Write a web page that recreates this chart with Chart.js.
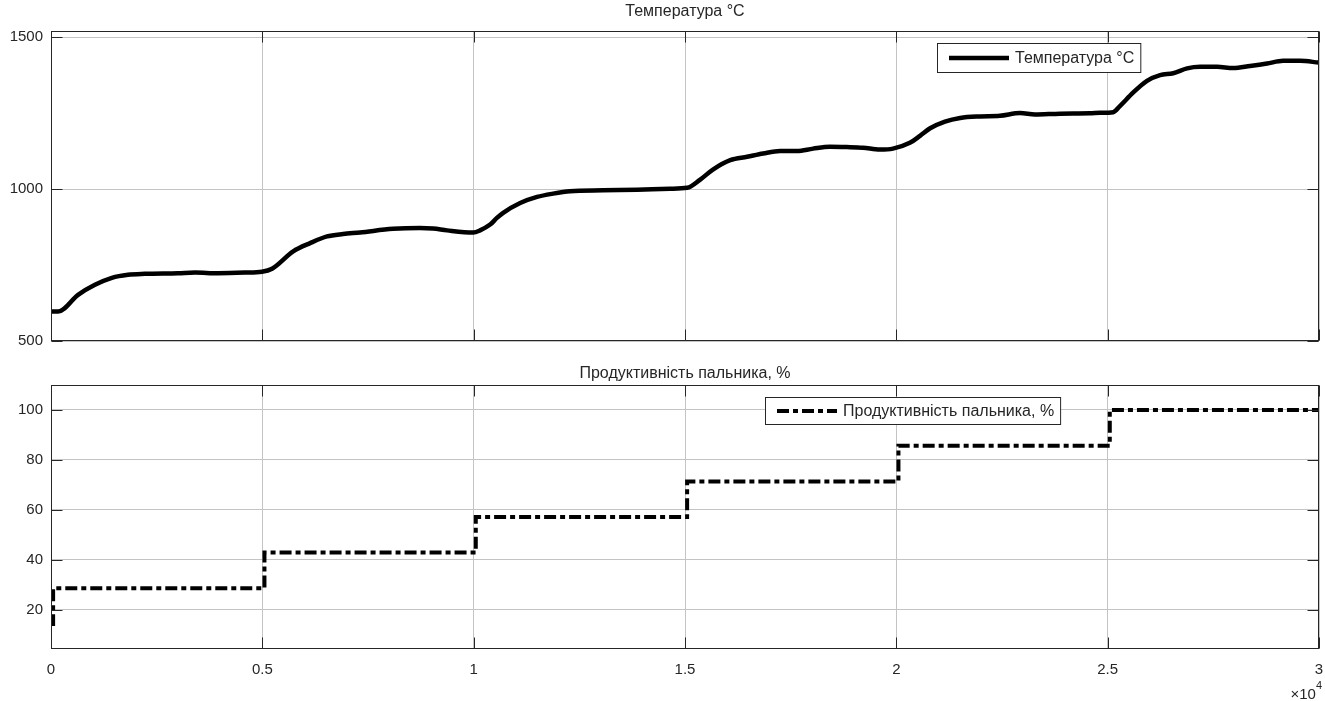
<!DOCTYPE html>
<html>
<head>
<meta charset="utf-8">
<script src="https://cdn.jsdelivr.net/npm/chart.js@4.4.1/dist/chart.umd.min.js"></script>
<style>
  body { margin: 0; background: #fff; }
  canvas { position: absolute; left: 0; }
  #tempChart { top: 0; }
  #burnerChart { top: 345px; }
</style>
</head>
<body>
<canvas id="tempChart" width="1325" height="345"></canvas>
<canvas id="burnerChart" width="1325" height="356"></canvas>
<script>
// Data ---------------------------------------------------------------------->
const timeSec = [0, 170, 640, 1040, 1440, 1820, 2220, 3000, 3410, 3950, 4590, 4990, 5230,
  5730, 6130, 6530, 6910, 7310, 8090, 8730, 9040, 9370, 9990, 10150, 10390,
  10550, 10690, 11100, 11500, 11880, 12280, 13060, 13870, 14650, 15050, 15360,
  15660, 16070, 16470, 16850, 17250, 17650, 18030, 18430, 18830, 19210, 19610, 19920,
  20320, 20560, 20800, 21150, 21510, 21980, 22450, 22930, 23280, 23870, 24580, 24820,
  25130, 25290, 25600, 25930, 26240, 26550, 26880, 27190, 27590, 27970, 28370, 28770,
  29150, 29550, 30000];
const temperatureC = [597, 597, 652, 685, 708, 718, 721, 723, 725, 723, 725, 728, 738,
  795, 822, 844, 852, 857, 869, 872, 870, 864, 857, 864, 883,
  905, 921, 954, 974, 985, 993, 996, 998, 1001, 1004, 1031,
  1064, 1095, 1106, 1117, 1125, 1125, 1133, 1139, 1138, 1136, 1130, 1133,
  1152, 1175, 1200, 1222, 1234, 1239, 1241, 1250, 1245, 1248, 1249, 1251,
  1253, 1273, 1317, 1356, 1375, 1381, 1397, 1402, 1402, 1398, 1405, 1413,
  1422, 1422, 1416];

const stepTimeSec = [0, 50, 5050, 10050, 15050, 20050, 25050, 30000];
const burnerPct = [14.3, 28.6, 42.9, 57.1, 71.4, 85.7, 100, 100];

const xTicks = [0, 5000, 10000, 15000, 20000, 25000, 30000];
const xTickLabels = ['0', '0.5', '1', '1.5', '2', '2.5', '3'];
const tempTicks = [500, 1000, 1500];
const burnerTicks = [20, 40, 60, 80, 100];

const tempLabel = 'Температура °C';
const burnerLabel = 'Продуктивність пальника, %';

// Style --------------------------------------------------------------------->
const FONT = '"Liberation Sans", Arial, sans-serif';
const TEXT = '#262626';
const GRID = '#c4c4c4';

// Frame, inner tick marks, legend box, exponent label
const matlabAxes = {
    id: 'matlabAxes',
    afterDraw(chart, args, opts) {
        const { ctx, chartArea: a, scales } = chart;
        const L = Math.round(a.left) + 0.5, R = Math.round(a.right) - 0.5;
        const T = Math.round(a.top) + 0.5, B = Math.round(a.bottom) - 0.5;
        ctx.save();
        ctx.strokeStyle = TEXT;
        ctx.lineWidth = 1;
        ctx.beginPath();
        scales.x.ticks.forEach(t => {
            const px = Math.round(scales.x.getPixelForValue(t.value)) + 0.5;
            ctx.moveTo(px, T); ctx.lineTo(px, T + 11);
            ctx.moveTo(px, B); ctx.lineTo(px, B - 11);
        });
        scales.y.ticks.forEach(t => {
            const py = Math.round(scales.y.getPixelForValue(t.value)) + 0.5;
            ctx.moveTo(L, py); ctx.lineTo(L + 11, py);
            ctx.moveTo(R, py); ctx.lineTo(R - 11, py);
        });
        ctx.stroke();
        ctx.strokeRect(L, T, R - L, B - T);

        // legend
        const ds = chart.data.datasets[0];
        const lg = opts.legend;
        ctx.font = '16px ' + FONT;
        const tw = ctx.measureText(ds.label).width;
        const w = 78 + tw + 6;
        ctx.fillStyle = '#fff';
        ctx.fillRect(lg.x, lg.y, w, lg.h);
        ctx.strokeRect(lg.x + 0.5, lg.y + 0.5, w, lg.h);
        const cy = lg.y + lg.h / 2 + 0.5;
        ctx.beginPath();
        ctx.setLineDash(ds.borderDash || []);
        ctx.lineWidth = ds.borderWidth;
        ctx.strokeStyle = ds.borderColor;
        ctx.moveTo(lg.x + 12, cy);
        ctx.lineTo(lg.x + 72, cy);
        ctx.stroke();
        ctx.setLineDash([]);
        ctx.fillStyle = TEXT;
        ctx.textBaseline = 'middle';
        ctx.fillText(ds.label, lg.x + 78, cy + 1);

        // x10^4 exponent
        if (opts.exponent) {
            ctx.textBaseline = 'alphabetic';
            ctx.font = '11px ' + FONT;
            const w4 = ctx.measureText('4').width;
            ctx.fillText('4', 1322 - w4, 344);
            ctx.font = '15px ' + FONT;
            ctx.textAlign = 'right';
            ctx.fillText('\u00d710', 1322 - w4, 354);
        }
        ctx.restore();
    }
};

function axisX(showLabels, height) {
    return {
        type: 'linear',
        min: 0,
        max: 30000,
        afterBuildTicks: s => { s.ticks = xTicks.map(v => ({ value: v })); },
        afterFit: s => {
            s.height = height;
            s.paddingLeft = 0; s.paddingRight = 0;
        },
        border: { display: false },
        grid: { color: GRID, drawTicks: false },
        ticks: {
            display: showLabels,
            padding: 12,
            maxRotation: 0,
            color: TEXT,
            font: { family: FONT, size: 15 },
            callback: (v) => xTickLabels[xTicks.indexOf(v)]
        }
    };
}

function axisY(min, max, values) {
    return {
        min: min,
        max: max,
        afterBuildTicks: s => { s.ticks = values.map(v => ({ value: v })); },
        afterFit: s => {
            s.width = 51;
            s.paddingTop = 0; s.paddingBottom = 0;
        },
        border: { display: false },
        grid: { color: GRID, drawTicks: false },
        ticks: {
            padding: 8,
            color: TEXT,
            font: { family: FONT, size: 15 },
            callback: (v) => String(v)
        }
    };
}

function titleOpts(text, top, bottom) {
    return {
        display: true,
        text: text,
        fullSize: false,
        color: TEXT,
        font: { family: FONT, size: 16, weight: 'normal' },
        padding: { top: top, bottom: bottom }
    };
}

// Temperature chart ---------------------------------------------------------->
new Chart(document.getElementById('tempChart'), {
    type: 'line',
    data: {
        datasets: [{
            label: tempLabel,
            data: timeSec.map((t, i) => ({ x: t, y: temperatureC[i] })),
            borderColor: '#000',
            borderWidth: 4.5,
            pointRadius: 0,
            cubicInterpolationMode: 'monotone',
            fill: false
        }]
    },
    options: {
        responsive: false,
        animation: false,
        devicePixelRatio: 1,
        layout: { padding: { left: 0, right: 6, top: 0, bottom: 4 } },
        scales: {
            x: axisX(false, 0),
            y: axisY(500, 1520, tempTicks)
        },
        plugins: {
            legend: { display: false },
            tooltip: { enabled: false },
            title: titleOpts(tempLabel, 2, 9.8),
            matlabAxes: { legend: { x: 937, y: 43, h: 29 }, exponent: false }
        }
    },
    plugins: [matlabAxes]
});

// Burner chart --------------------------------------------------------------->
new Chart(document.getElementById('burnerChart'), {
    type: 'line',
    data: {
        datasets: [{
            label: burnerLabel,
            data: stepTimeSec.map((t, i) => ({ x: t, y: burnerPct[i] })),
            borderColor: '#000',
            borderWidth: 4,
            borderDash: [12, 4, 5, 4],
            pointRadius: 0,
            stepped: true,
            fill: false
        }]
    },
    options: {
        responsive: false,
        animation: false,
        devicePixelRatio: 1,
        layout: { padding: { left: 0, right: 6, top: 0, bottom: 12 } },
        scales: {
            x: axisX(true, 40),
            y: axisY(4.3, 110, burnerTicks)
        },
        plugins: {
            legend: { display: false },
            tooltip: { enabled: false },
            title: titleOpts(burnerLabel, 19, 1.8),
            matlabAxes: { legend: { x: 765, y: 52, h: 27 }, exponent: true }
        }
    },
    plugins: [matlabAxes]
});
</script>
</body>
</html>
